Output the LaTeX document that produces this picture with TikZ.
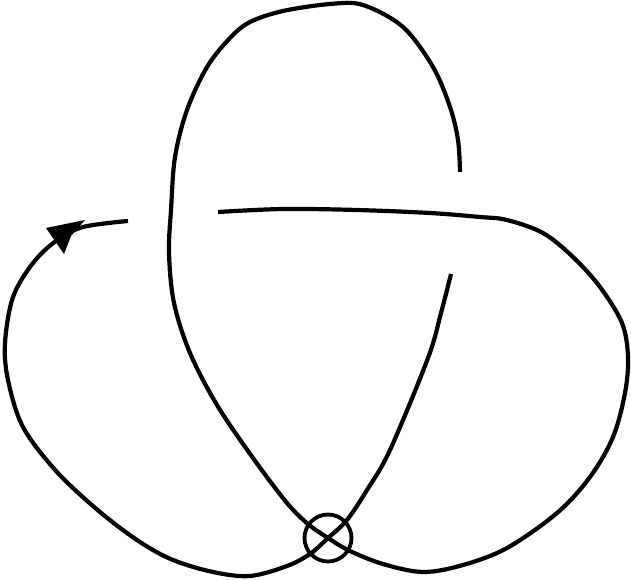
\documentclass[tikz,border=0pt]{standalone}
\begin{document}
\begin{tikzpicture}[x=1pt,y=-1pt,
  strand/.style={line width=4.2pt, line join=round, black},
  ring/.style={circle, draw, line width=3.8pt, minimum size=47pt, inner sep=0pt}]
\useasboundingbox (0,0) rectangle (631,580);
% over strand: horizontal line, right lobe, virtual crossing, left vertical, top arc
\draw[strand] plot[smooth, tension=0.55] coordinates {
 (218,212) (283,209) (357,210) (430,213) (480,217) (507,220) (543,233) (573,257)
 (600,287) (622,323) (628,357) (625,393) (613,437) (590,477) (557,513) (507,548)
 (463,565) (423,572) (383,564) (350,551) (328,538) (308,524) (287,503) (253,458)
 (217,405) (190,353) (174,303) (169,253) (171,210) (175,157) (187,110) (207,67)
 (230,38) (250,22) (283,11) (330,4) (363,5) (403,27) (433,67) (450,107) (458,140) (460,172)};
% under strand: from the gap at the right, through the crossing, round the left lobe
\draw[strand] plot[smooth, tension=0.55] coordinates {
 (451,274) (441,313) (428,358) (390,450) (367,490) (347,520) (328,538) (310,554)
 (287,566) (250,576) (213,572) (173,560) (140,542) (100,512) (57,472) (23,427)
 (8,380) (5,343) (13,297) (33,263) (56,241) (83,227) (128,221)};
% arrow head
\fill (46,228) -- (85,220) -- (71,236) -- (64,254) -- cycle;
% virtual crossing circle
\node[ring] (vc) at (328,538) {};
\end{tikzpicture}
\end{document}
